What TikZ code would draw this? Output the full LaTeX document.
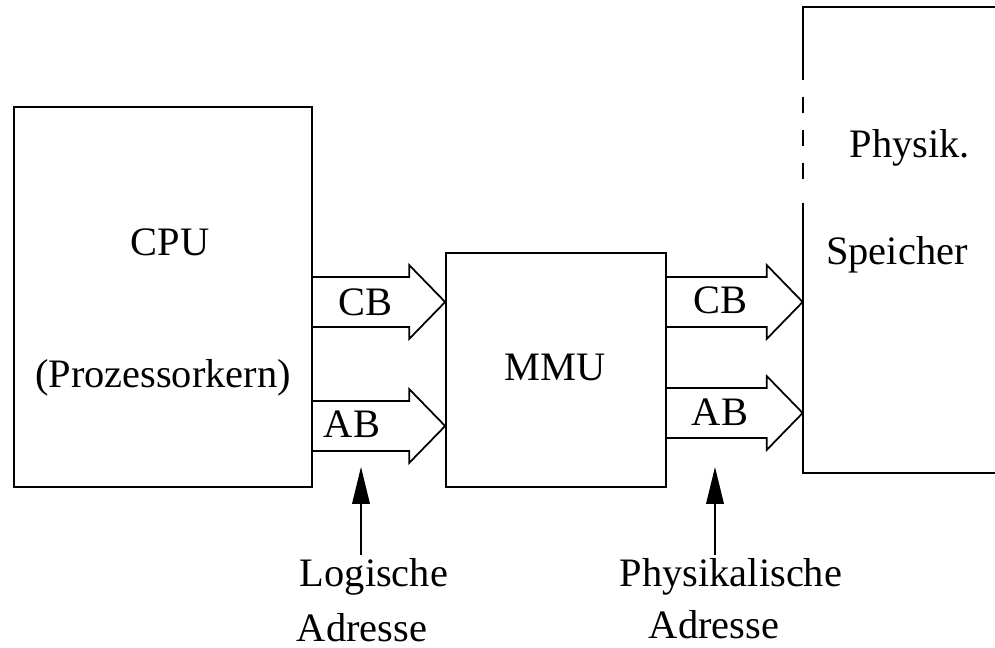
\documentclass[tikz,border=0pt]{standalone}
\usepackage{fontspec}
\setmainfont{Liberation Serif}
\usetikzlibrary{calc, arrows.meta}

\tikzset{
	box/.style={draw, line width=1pt, inner sep=0pt},
	bus/.style={line width=1pt, line join=miter},
	uparrow/.style={line width=1pt, -{Triangle[length=21pt, width=10pt]}},
	lbl/.style={font=\fontsize{23}{28}\selectfont, inner sep=2pt},
}

% bus arrow from box #1 to box #2 at height #3
\newcommand{\busarrow}[3]{%
	\draw[bus] ($(#1.east |- 0,#3)+(0,-25)$) -- ($(#2.west |- 0,#3)+(-36,-25)$) -- ++(0,-12)
		-- (#2.west |- 0,#3) -- ++(-36,37) -- ++(0,-12) -- ($(#1.east |- 0,#3)+(0,25)$);
}

\begin{document}
\begin{tikzpicture}[x=0.02cm, y=-0.02cm]
		\useasboundingbox (0,0) rectangle (995,648);
		
		%boxes
		\node[box, minimum width=5.96cm, minimum height=7.6cm] (cpu) at (163,297) {};
		\node[box, minimum width=4.4cm, minimum height=4.68cm] (mmu) at (556,370) {};
		\node[inner sep=0pt, minimum width=4.14cm, minimum height=9.32cm] (mem) at (906.5,240) {};
		
		%memory outline, open to the right
		\draw[line width=1pt] (mem.north west -| 995,0) -- (mem.north west) -- ++(0,73);
		\foreach \y in {97,130,163}
			\draw[line width=1pt] (mem.west |- 0,\y) -- ++(0,16);
		\draw[line width=1pt] (mem.west |- 0,203) -- (mem.south west) -- (mem.south west -| 995,0);
		
		%texts
		\node[lbl] (cputxt) at (170,242) {CPU};
		\node[lbl] (kern) at (163,378) {(Prozessorkern)};
		\node[lbl] (mmutxt) at (555,367) {MMU};
		\node[lbl] (phys) at (910,148) {Physik.};
		\node[lbl] (spei) at (897,255) {Speicher};
		
		%buses
		\busarrow{cpu}{mmu}{302}
		\busarrow{cpu}{mmu}{426}
		\busarrow{mmu}{mem}{302}
		\busarrow{mmu}{mem}{413}
		\node[lbl] (cb1) at (365,302) {CB};
		\node[lbl] (ab1) at (352,424) {AB};
		\node[lbl] (cb2) at (720,300) {CB};
		\node[lbl] (ab2) at (720,412) {AB};
		
		%addresses
		\node[lbl] (log) at (374,577) {Logische};
		\node[lbl, inner sep=0pt] (logadr) at (362,628) {Adresse};
		\node[lbl] (phy) at (731,577) {Physikalische};
		\node[lbl, inner sep=0pt] (phyadr) at (714,625) {Adresse};
		\coordinate (lt) at (361,467);
		\coordinate (pt) at (715,467);
		\draw[uparrow] (lt |- log.north) -- (lt);
		\draw[uparrow] (pt |- phy.north) -- (pt);

	\end{tikzpicture}
\end{document}
